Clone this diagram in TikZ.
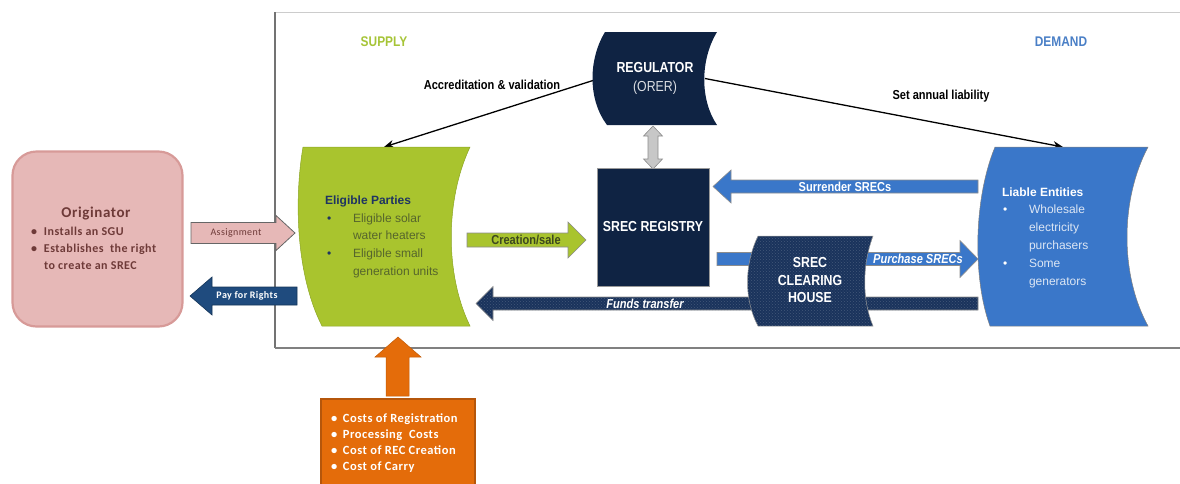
\documentclass[tikz,border=0pt]{standalone}
\usepackage{fontspec}
\setmainfont{Liberation Sans}
\newfontfamily\arn{Liberation Sans}[FakeStretch=0.85]
\newfontfamily\cbr{Carlito}[LetterSpace=4]
\usetikzlibrary{arrows.meta,patterns}
\definecolor{navy}{HTML}{0F2343}
\definecolor{navytwo}{HTML}{1A335C}
\definecolor{lime}{HTML}{A9C42E}
\definecolor{limedark}{HTML}{8CA526}
\definecolor{limetext}{HTML}{56652C}
\definecolor{bluefill}{HTML}{3A77C9}
\definecolor{bluetext}{HTML}{DCE6F4}
\definecolor{pinkfill}{HTML}{E6B8B7}
\definecolor{pinkedge}{HTML}{D79A98}
\definecolor{pinktext}{HTML}{6E3A38}
\definecolor{orangefill}{HTML}{E46C0A}
\definecolor{orangeedge}{HTML}{B5560B}
\definecolor{payblue}{HTML}{1F4B7E}
\definecolor{supplygreen}{HTML}{A6C437}
\definecolor{demandblue}{HTML}{4A7FC6}
\definecolor{titlenavy}{HTML}{1F3462}
% #1 style, #2 tail x, #3 tip x, #4 centre y, #5 half body, #6 head base x, #7 half head
\newcommand\hblock[7]{\path[#1] (#2,#4-#5) -- (#6,#4-#5) -- (#6,#4-#7) -- (#3,#4) -- (#6,#4+#7) -- (#6,#4+#5) -- (#2,#4+#5) -- cycle;}
\begin{document}
\begin{tikzpicture}[x=1pt,y=-1pt,
  box/.style={inner sep=0pt,outer sep=0pt},
  conn/.style={draw=black,line width=1.3pt,-{Stealth[length=10pt,width=8pt]}},
  edgegray/.style={draw=black!45,line width=0.6pt},
  bigtxt/.style={box,text=white,font=\arn\bfseries\fontsize{14.5}{17.5}\selectfont,align=center},
  arrtxt/.style={box,font=\arn\bfseries\fontsize{13}{15}\selectfont},
  listtxt/.style={box,anchor=base west,font=\fontsize{12}{17.8}\selectfont},
  cbrtxt/.style={box,font=\cbr\bfseries\fontsize{12}{17}\selectfont}]
\useasboundingbox (0,0) rectangle (1180,483);

% frame
\draw[black!20,line width=1pt] (275,12) -- (1180,12);
\draw[black!55,line width=1.2pt] (275,12) -- (275,348);
\draw[black!50,line width=1.5pt] (275,348) -- (1180,348);

% invisible anchor nodes for the curved shapes
\node[box,minimum width=172pt,minimum height=179pt] (elig) at (384,236.5) {};
\node[box,minimum width=175pt,minimum height=179pt] (liable) at (1063,236.5) {};
\node[box,minimum width=124pt,minimum height=93pt] (reg) at (655,78.5) {};
\node[box,minimum width=126pt,minimum height=90pt] (clear) at (810,281) {};

% connectors from the regulator
\draw[conn] ([yshift=-2pt]reg.west) -- (elig.north);
\draw[conn] ([xshift=-12pt]reg.east) -- (liable.north);

% Originator
\node[box,draw=pinkedge,fill=pinkfill,line width=2.2pt,rounded corners=24pt,minimum width=170pt,minimum height=175pt] (orig) at (97.5,239) {};
\node[cbrtxt,text=pinktext,font=\cbr\bfseries\fontsize{15}{17}\selectfont] (origtitle) at (96,214) {Originator};
\node[cbrtxt,anchor=base west,text=pinktext] (origlist) at (31,235) {\begin{tabular}[t]{@{}p{13pt}@{}l@{}}•&Installs an SGU\\•&Establishes\ \ the right\\&to create an SREC\end{tabular}};

% Assignment / Pay for Rights
\hblock{draw=black!60,line width=0.8pt,fill=pinkfill}{191}{295}{233}{10.5}{276}{17.5}
\node[box,font=\cbr\fontsize{10}{12}\selectfont,text=pinktext] (assignT) at (236,233) {Assignment};
\hblock{draw=payblue!70!black,line width=0.6pt,fill=payblue}{297}{190}{296}{9}{212}{19}
\node[box,font=\cbr\bfseries\fontsize{10}{12}\selectfont,text=white] (payT) at (247,296) {Pay for Rights};

% Eligible parties
\path[fill=lime,draw=limedark,line width=0.5pt] (303,147) -- (470,147) .. controls (445,200) and (445,275) .. (470,326) -- (322,326) .. controls (296,275) and (294,200) .. (303,147) -- cycle;
\node[box,anchor=base west,text=titlenavy,font=\bfseries\fontsize{12}{14}\selectfont] (eligT) at (325,204) {Eligible Parties};
\node[listtxt,text=limetext] (eligL) at (327,222) {\begin{tabular}[t]{@{}p{26pt}@{}l@{}}\textcolor{titlenavy}{•}&Eligible solar\\&water heaters\\\textcolor{titlenavy}{•}&Eligible small\\&generation units\end{tabular}};

% Regulator
\path[fill=navy] (605,32) -- (717,32) .. controls (700,60) and (700,100) .. (717,125) -- (607,125) .. controls (588,100) and (588,60) .. (605,32) -- cycle;
\node[bigtxt,font=\arn\fontsize{14.5}{19}\selectfont] (regT) at (655,78.5) {\bfseries REGULATOR\\\textcolor{white!85!navy}{(ORER)}};

% double arrow regulator <-> registry
\path[draw=black!45,fill=black!22,line width=0.6pt] (653,126) -- (662.5,136) -- (658,136) -- (658,159) -- (662.5,159) -- (653,169) -- (643.5,159) -- (648,159) -- (648,136) -- (643.5,136) -- cycle;

% Registry
\node[bigtxt,fill=navy,draw=black!40,line width=0.5pt,minimum width=112pt,minimum height=118pt] (registry) at (653,227) {SREC REGISTRY};

% Liable entities
\path[fill=bluefill,draw=black!50,line width=0.5pt] (995,147) -- (1148,147) .. controls (1120,200) and (1120,275) .. (1148,326) -- (990,326) .. controls (973,280) and (973,200) .. (995,147) -- cycle;
\node[box,anchor=base west,text=white,font=\bfseries\fontsize{12}{14}\selectfont] (liableT) at (1002,196) {Liable Entities};
\node[listtxt,text=bluetext,font=\fontsize{12}{18}\selectfont] (liableL) at (1003,213) {\begin{tabular}[t]{@{}p{26pt}@{}l@{}}\textcolor{white}{•}&Wholesale\\&electricity\\&purchasers\\\textcolor{white}{•}&Some\\&generators\end{tabular}};

% Creation/sale
\hblock{edgegray,fill=lime}{467}{586}{240}{7}{568}{18}
\node[arrtxt,text=limetext!70!black] (createT) at (526,239.5) {Creation/sale};

% Surrender / Purchase / Funds
\hblock{edgegray,fill=bluefill}{978}{713}{186.5}{6.5}{731}{16.5}
\node[arrtxt,text=white] (surrT) at (845,186.5) {Surrender SRECs};
\hblock{edgegray,fill=bluefill}{717}{978}{259}{6.5}{960}{18.5}
\hblock{edgegray,preaction={fill=navytwo},pattern=crosshatch dots,pattern color=navytwo!82!white}{978}{476}{303.5}{6.5}{493}{17}
\node[arrtxt,text=white,font=\arn\bfseries\itshape\fontsize{13}{15}\selectfont] (fundT) at (645,303.5) {Funds transfer};

% Clearing house
\path[preaction={fill=navytwo},pattern=crosshatch dots,pattern color=navytwo!82!white,draw=black!40,line width=0.5pt] (758,236) -- (873,236) .. controls (862,265) and (862,300) .. (873,326) -- (758,326) .. controls (744,300) and (744,265) .. (758,236) -- cycle;
\node[bigtxt] (clearT) at (810,280.5) {SREC\\CLEARING\\HOUSE};
\node[arrtxt,text=white,font=\arn\bfseries\itshape\fontsize{13}{15}\selectfont] (purchT) at (918,258.5) {Purchase SRECs};

% Costs
\path[fill=orangefill,draw=orangefill!85!black,line width=0.5pt] (398,337) -- (421,357) -- (409,357) -- (409,396) -- (386,396) -- (386,357) -- (375,357) -- cycle;
\node[box,fill=orangefill,draw=orangeedge,line width=1.5pt,minimum width=154pt,minimum height=95pt,anchor=north west] (costs) at (321,399) {};
\node[cbrtxt,anchor=base west,text=white,font=\cbr\bfseries\fontsize{12.5}{16.3}\selectfont] (costsL) at (331,422) {\begin{tabular}[t]{@{}p{12pt}@{}l@{}}•&Costs of Registration\\•&Processing\ \ Costs\\•&Cost of REC Creation\\•&Cost of Carry\end{tabular}};

% section labels
\node[box,text=supplygreen,font=\arn\bfseries\fontsize{14}{16}\selectfont] (supply) at (384,42) {SUPPLY};
\node[box,text=demandblue,font=\arn\bfseries\fontsize{14}{16}\selectfont] (demand) at (1061,42) {DEMAND};
\node[arrtxt] (accT) at (492,85) {Accreditation \& validation};
\node[arrtxt] (setT) at (941,96) {Set annual liability};
\end{tikzpicture}
\end{document}
